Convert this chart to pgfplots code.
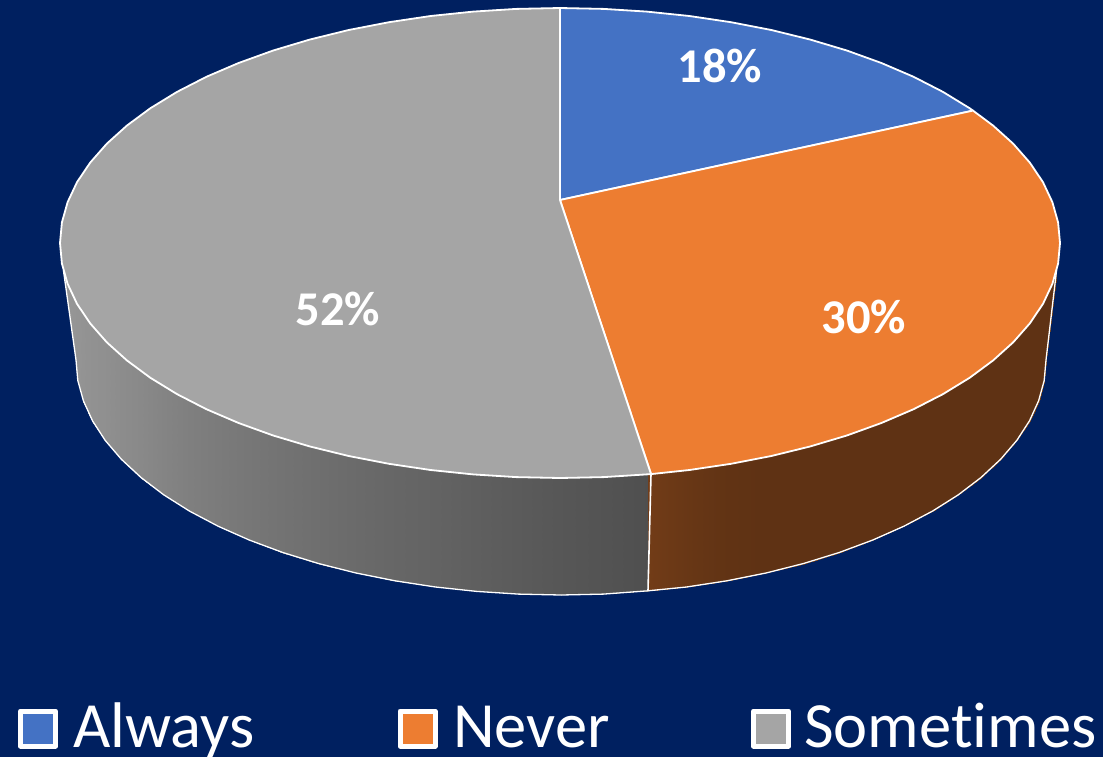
\documentclass[border=0pt]{standalone}
\usepackage{pgfplots}
\pgfplotsset{compat=1.18}
\usepackage{fontspec}
\setmainfont{Carlito}[Ligatures=CommonOff]
\definecolor{navybg}{RGB}{0,32,96}
\definecolor{sliceblue}{RGB}{68,114,196}
\definecolor{sliceorange}{RGB}{237,125,49}
\definecolor{slicegray}{RGB}{165,165,165}
% side walls: the slice colour scaled by a brightness factor between 0 and 1
\pgfplotsset{
  colormap={wallgray}{rgb255=(0,0,0) rgb255=(165,165,165)},
  colormap={wallorange}{rgb255=(0,0,0) rgb255=(237,125,49)},
}
\begin{document}
\begin{tikzpicture}
\path[use as bounding box] (0,0) rectangle (1103pt,756pt);
\begin{axis}[
  at={(0,0)}, anchor=south west,
  width=1103pt, height=756pt, scale only axis,
  xmin=0, xmax=1103, ymin=0, ymax=756, y dir=reverse,
  hide axis, clip=false,
  point meta min=0, point meta max=1,
  every axis plot/.append style={line join=round},
]
% background, running slightly past the page edge
\addplot[fill=navybg, draw=none] coordinates {(-10,-10) (1113,-10) (1113,766) (-10,766) (-10,-10)};

% wall of the "Sometimes" slice
\addplot[patch, patch type=rectangle, shader=interp, colormap name=wallgray, point meta=explicit] coordinates {
(63.4,250)[.92] (76,250)[.90] (76,360)[.90] (63.4,270)[.92]
(76,250)[.90] (77.8,250)[.90] (77.8,380.5)[.90] (76,360)[.90]
(77.8,250)[.90] (83.4,250)[.89] (83.4,400.8)[.89] (77.8,380.5)[.90]
(83.4,250)[.89] (92.5,250)[.88] (92.5,420.8)[.88] (83.4,400.8)[.89]
(92.5,250)[.88] (105.2,250)[.87] (105.2,440.4)[.87] (92.5,420.8)[.88]
(105.2,250)[.87] (121.4,250)[.85] (121.4,459.3)[.85] (105.2,440.4)[.87]
(121.4,250)[.85] (141,250)[.83] (141,477.5)[.83] (121.4,459.3)[.85]
(141,250)[.83] (163.7,250)[.80] (163.7,494.8)[.80] (141,477.5)[.83]
(163.7,250)[.80] (189.5,250)[.77] (189.5,511.1)[.77] (163.7,494.8)[.80]
(189.5,250)[.77] (218.1,250)[.745] (218.1,526.2)[.745] (189.5,511.1)[.77]
(218.1,250)[.745] (249.2,250)[.72] (249.2,540)[.72] (218.1,526.2)[.745]
(249.2,250)[.72] (282.8,250)[.695] (282.8,552.5)[.695] (249.2,540)[.72]
(282.8,250)[.695] (318.5,250)[.67] (318.5,563.5)[.67] (282.8,552.5)[.695]
(318.5,250)[.67] (356,250)[.645] (356,573)[.645] (318.5,563.5)[.67]
(356,250)[.645] (395.1,250)[.62] (395.1,580.8)[.62] (356,573)[.645]
(395.1,250)[.62] (435.5,250)[.60] (435.5,587)[.60] (395.1,580.8)[.62]
(435.5,250)[.60] (476.8,250)[.575] (476.8,591.4)[.575] (435.5,587)[.60]
(476.8,250)[.575] (518.7,250)[.55] (518.7,594.1)[.55] (476.8,591.4)[.575]
(518.7,250)[.55] (561,250)[.525] (561,595)[.525] (518.7,594.1)[.55]
(561,250)[.525] (603.3,250)[.505] (603.3,594.1)[.505] (561,595)[.525]
(603.3,250)[.505] (648,250)[.48] (648,590.8)[.48] (603.3,594.1)[.505]
};

% wall of the "Never" slice
\addplot[patch, patch type=rectangle, shader=interp, colormap name=wallorange, point meta=explicit] coordinates {
(648,250)[.48] (686.5,250)[.44] (686.5,587)[.44] (648,590.8)[.48]
(686.5,250)[.44] (726.9,250)[.41] (726.9,580.8)[.41] (686.5,587)[.44]
(726.9,250)[.41] (766,250)[.40] (766,573)[.40] (726.9,580.8)[.41]
(766,250)[.40] (803.5,250)[.40] (803.5,563.5)[.40] (766,573)[.40]
(803.5,250)[.40] (839.2,250)[.40] (839.2,552.5)[.40] (803.5,563.5)[.40]
(839.2,250)[.40] (872.8,250)[.40] (872.8,540)[.40] (839.2,552.5)[.40]
(872.8,250)[.40] (903.9,250)[.40] (903.9,526.2)[.40] (872.8,540)[.40]
(903.9,250)[.40] (932.5,250)[.40] (932.5,511.1)[.40] (903.9,526.2)[.40]
(932.5,250)[.40] (958.3,250)[.40] (958.3,494.8)[.40] (932.5,511.1)[.40]
(958.3,250)[.40] (981,250)[.40] (981,477.5)[.40] (958.3,494.8)[.40]
(981,250)[.40] (1000.6,250)[.40] (1000.6,459.3)[.40] (981,477.5)[.40]
(1000.6,250)[.40] (1016.8,250)[.40] (1016.8,440.4)[.40] (1000.6,459.3)[.40]
(1016.8,250)[.40] (1029.5,250)[.40] (1029.5,420.8)[.40] (1016.8,440.4)[.40]
(1029.5,250)[.40] (1038.6,250)[.40] (1038.6,400.8)[.40] (1029.5,420.8)[.40]
(1038.6,250)[.40] (1044.2,250)[.40] (1044.2,380.5)[.40] (1038.6,400.8)[.40]
(1044.2,250)[.40] (1046,250)[.40] (1046,360)[.40] (1044.2,380.5)[.40]
(1046,250)[.40] (1056.6,250)[.40] (1056.6,270)[.40] (1046,360)[.40]
};

% outline of the walls
\addplot[white, line width=1.3pt] coordinates {
(63.4,270) (76,360) (77.8,380.5) (83.4,400.8) (92.5,420.8) (105.2,440.4) (121.4,459.3)
(141,477.5) (163.7,494.8) (189.5,511.1) (218.1,526.2) (249.2,540) (282.8,552.5)
(318.5,563.5) (356,573) (395.1,580.8) (435.5,587) (476.8,591.4) (518.7,594.1)
(561,595) (603.3,594.1) (648,590.8) (686.5,587) (726.9,580.8) (766,573) (803.5,563.5)
(839.2,552.5) (872.8,540) (903.9,526.2) (932.5,511.1) (958.3,494.8) (981,477.5)
(1000.6,459.3) (1016.8,440.4) (1029.5,420.8) (1038.6,400.8) (1044.2,380.5) (1046,360)
(1056.6,270)};
\addplot[white, line width=1.6pt] coordinates {(651,474.1) (648,590.8)};

% top face: Always
\addplot[fill=sliceblue, draw=white, line width=1.8pt] coordinates {
(560,200) (560,8) (603.6,8.9) (646.8,11.6) (689.4,16) (731,22.2) (771.3,30) (810,39.5)
(846.8,50.5) (881.4,63) (913.6,76.8) (943,91.9) (969.6,108.2) (973,110.6) (560,200)};

% top face: Never
\addplot[fill=sliceorange, draw=white, line width=1.8pt] coordinates {
(560,200) (973,110.6) (993,125.5) (1013.2,143.7) (1029.8,162.6) (1043,182.2) (1052.4,202.2)
(1058.1,222.5) (1060,243) (1058.1,263.5) (1052.4,283.8) (1043,303.8) (1029.8,323.4)
(1013.2,342.3) (993,360.5) (969.6,377.8) (943,394.1) (913.6,409.2) (881.4,423)
(846.8,435.5) (810,446.5) (771.3,456) (731,463.8) (689.4,470) (651,474.1) (560,200)};

% top face: Sometimes
\addplot[fill=slicegray, draw=white, line width=1.8pt] coordinates {
(560,200) (651,474.1) (603.6,477.1) (560,478) (516.4,477.1) (473.2,474.4) (430.6,470)
(389,463.8) (348.7,456) (310,446.5) (273.2,435.5) (238.6,423) (206.4,409.2) (177,394.1)
(150.4,377.8) (127,360.5) (106.8,342.3) (90.2,323.4) (77,303.8) (67.6,283.8) (61.9,263.5)
(60,243) (61.9,222.5) (67.6,202.2) (77,182.2) (90.2,162.6) (106.8,143.7) (127,125.5)
(150.4,108.2) (177,91.9) (206.4,76.8) (238.6,63) (273.2,50.5) (310,39.5) (348.7,30)
(389,22.2) (430.6,16) (473.2,11.6) (516.4,8.9) (560,8) (560,200)};

% legend swatches
\addplot[only marks, mark=square*, mark size=17.5pt, mark options={fill=sliceblue, draw=white, line width=5pt, line join=round}] coordinates {(38,728.5)};
\addplot[only marks, mark=square*, mark size=17.5pt, mark options={fill=sliceorange, draw=white, line width=5pt, line join=round}] coordinates {(417.5,728.5)};
\addplot[only marks, mark=square*, mark size=17.5pt, mark options={fill=slicegray, draw=white, line width=5pt, line join=round}] coordinates {(771,728.5)};

% percentage labels
\node[white, font=\fontsize{48.5}{52}\selectfont\bfseries] at (axis cs:720,66) {18\%};
\node[white, font=\fontsize{48.5}{52}\selectfont\bfseries] at (axis cs:864,317) {30\%};
\node[white, font=\fontsize{48.5}{52}\selectfont\bfseries] at (axis cs:338,308.5) {52\%};

% legend labels
\node[white, anchor=base west, inner sep=0pt, font=\fontsize{64.5}{70}\selectfont] at (axis cs:73,747) {Always};
\node[white, anchor=base west, inner sep=0pt, font=\fontsize{64.5}{70}\selectfont] at (axis cs:453,747) {Never};
\node[white, anchor=base west, inner sep=0pt, font=\fontsize{64.5}{70}\selectfont] at (axis cs:804,747) {Sometimes};
\end{axis}
\end{tikzpicture}
\end{document}
